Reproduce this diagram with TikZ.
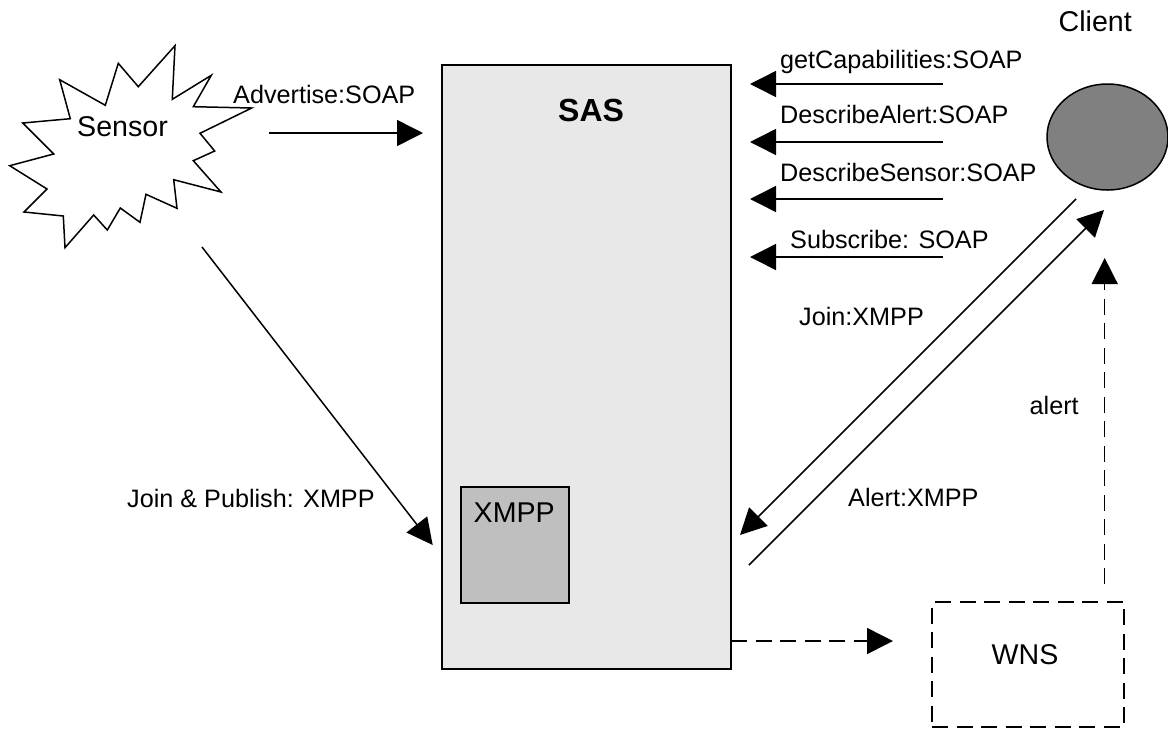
\documentclass[tikz,border=0pt]{standalone}
\usepackage{fontspec}
\setmainfont{Liberation Sans}
\usetikzlibrary{arrows.meta,shapes.geometric}
\tikzset{
  lbl/.style={anchor=base west,inner sep=0pt,font=\fontsize{25.2}{30}\selectfont},
  big/.style={anchor=base west,inner sep=0pt,font=\fontsize{28.6}{34}\selectfont},
  box/.style={draw=black,line width=1.5pt,anchor=north west,inner sep=0pt,outer sep=0pt},
  flow/.style={line width=1.5pt,-{Triangle[length=26pt,width=26pt]}},
  dashflow/.style={flow,dash pattern=on 16pt off 8.5pt},
}
\begin{document}
\begin{tikzpicture}[x=1pt,y=-1pt]
\useasboundingbox (0,0) rectangle (1168,729);
% Boxes
\node[box,fill=black!9,minimum width=289pt,minimum height=604pt] (sas) at (442,65) {};
\node[box,fill=black!25,minimum width=108pt,minimum height=116pt] (xmppbox) at (461,487) {};
\node[box,dash pattern=on 16pt off 8.5pt,minimum width=192pt,minimum height=125pt] (wns) at (932,602) {};
\node[draw=black,line width=1.5pt,fill=black!50,ellipse,minimum width=121pt,minimum height=106pt,inner sep=0pt] (client) at (1107.5,137) {};
% Sensor
\draw[line width=1.5pt,line join=miter,fill=white]
 (175,45.7)--(172.3,99.3)--(211.3,75.3)--(193.3,106.7)--(251.7,108)--(200,133.3)--(214.7,151)
 --(193.3,160.7)--(221,192)--(173.7,179.7)--(177,208.3)--(146,194.3)--(140,222.3)--(120.3,208)
 --(107.3,230)--(93.7,215)--(65,247.7)--(63.3,216)--(24,212)--(47,189)--(9.7,165.7)--(53.7,154)
 --(22.7,123)--(70.3,118.7)--(59.7,79.7)--(105.3,105.3)--(118.3,63.3)--(138.3,86.7)--cycle;
% Labels
\node[big] (sensorlabel) at (77,136) {Sensor};
\node[big] (clientlabel) at (1058.5,31) {Client};
\node[big,font=\fontsize{32}{38}\selectfont\bfseries] (saslabel) at (558,121) {SAS};
\node[big] (xmpplabel) at (473.5,522) {XMPP};
\node[big] (wnslabel) at (991.5,664) {WNS};
\node[lbl] (l1) at (780,68) {getCapabilities:SOAP};
\node[lbl] (l2) at (780,123) {DescribeAlert:SOAP};
\node[lbl] (l3) at (780,181) {DescribeSensor:SOAP};
\node[lbl] (l4) at (790,248) {Subscribe: SOAP};
\node[lbl] (l5) at (233,103.5) {Advertise:SOAP};
\node[lbl] (l6) at (799,325) {Join:XMPP};
\node[lbl] (l7) at (848,506) {Alert:XMPP};
\node[lbl] (l8) at (1029.5,414) {alert};
\node[lbl] (l9) at (127,507) {Join \& Publish: XMPP};
% Free connector ends
\coordinate (a1s) at (943,84);  \coordinate (a1e) at (750,84);
\coordinate (a2s) at (943,142); \coordinate (a2e) at (750,142);
\coordinate (a3s) at (943,199); \coordinate (a3e) at (750,199);
\coordinate (a4s) at (943,257); \coordinate (a4e) at (750,257);
\coordinate (advs) at (269,133); \coordinate (adve) at (423,133);
\coordinate (joins) at (202,247); \coordinate (joine) at (432.7,545);
\coordinate (cjs) at (1076,199); \coordinate (cje) at (740,535);
\coordinate (cas) at (749,565); \coordinate (cae) at (1104,210);
\coordinate (wnsup) at (1104.7,584); \coordinate (wnsupe) at (1104.7,258);
\coordinate (sasout) at (731,641); \coordinate (sasoute) at (893,641);
% Connectors
\draw[flow] (a1s) -- (a1e);
\draw[flow] (a2s) -- (a2e);
\draw[flow] (a3s) -- (a3e);
\draw[flow] (a4s) -- (a4e);
\draw[flow] (advs) -- (adve);
\draw[flow] (joins) -- (joine);
\draw[flow] (cjs) -- (cje);
\draw[flow] (cas) -- (cae);
\draw[dashflow] (wnsup) -- (wnsupe);
\draw[dashflow] (sasout) -- (sasoute);
\end{tikzpicture}
\end{document}
